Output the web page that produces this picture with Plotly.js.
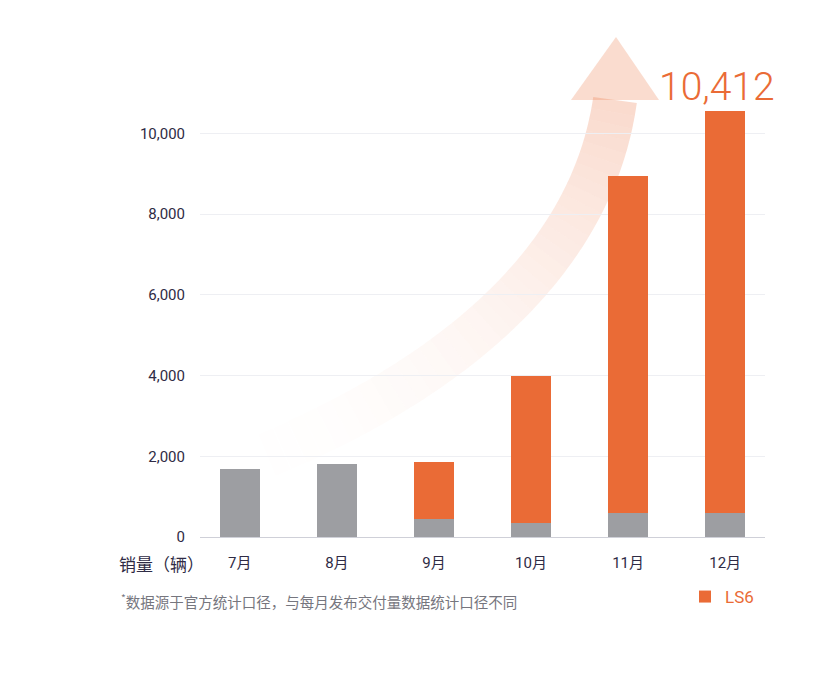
<!DOCTYPE html>
<html>
<head>
<meta charset="utf-8">
<script src="https://cdn.plot.ly/plotly-3.0.1.min.js"></script>
<style>
  body { margin: 0; background: #fff; }
  #myChart { width: 830px; height: 698px; }
</style>
</head>
<body>
<div id="myChart"></div>
<script>
// months on the x axis
var months = ['7月', '8月', '9月', '10月', '11月', '12月'];
// gray part of each bar (other models)
var other_sales = [1690, 1800, 450, 350, 600, 600];
// orange part (LS6)
var ls6_sales = [0, 0, 1420, 3650, 8350, 9950];
var y_ticks = [0, 2000, 4000, 6000, 8000, 10000];
var y_tick_text = ['0', '2,000', '4,000', '6,000', '8,000', '10,000'];

var orange = '#ea6b36';
var gray = '#9d9ea2';
var dark = '#2f2b45';

// plot box in pixels, used to place the decoration in paper units
var L = 200, R = 765, T = 101, B = 537;
function px(x) { return (x - L) / (R - L); }
function py(y) { return (B - y) / (B - T); }

// curved arrow behind the bars, drawn as fading pieces
function bez(p0, p1, p2, p3, t) {
    var u = 1 - t;
    return [u*u*u*p0[0] + 3*u*u*t*p1[0] + 3*u*t*t*p2[0] + t*t*t*p3[0],
            u*u*u*p0[1] + 3*u*u*t*p1[1] + 3*u*t*t*p2[1] + t*t*t*p3[1]];
}
function arrow_shapes() {
    var p0 = [235, 468], p1 = [450, 385], p2 = [592, 262], p3 = [615, 100];
    var steps = 120;
    var left = [], right = [];
    for (var i = 0; i <= steps; i++) {
        var t = i / steps;
        var a = bez(p0, p1, p2, p3, Math.max(0, t - 0.001));
        var b = bez(p0, p1, p2, p3, Math.min(1, t + 0.001));
        var c = bez(p0, p1, p2, p3, t);
        var dx = b[0] - a[0], dy = b[1] - a[1];
        var len = Math.sqrt(dx*dx + dy*dy);
        var nx = -dy / len, ny = dx / len;
        var hw = 23 - 1 * t;
        left.push([c[0] + nx*hw, c[1] + ny*hw]);
        right.push([c[0] - nx*hw, c[1] - ny*hw]);
    }
    var shapes = [];
    var seg = 40, per = steps / seg;
    for (var s = 0; s < seg; s++) {
        var pts = [];
        for (var k = s*per; k <= (s+1)*per; k++) pts.push(left[k]);
        for (var k = (s+1)*per; k >= s*per; k--) pts.push(right[k]);
        var path = 'M' + pts.map(function(p){ return px(p[0]).toFixed(4) + ',' + py(p[1]).toFixed(4); }).join(' L') + ' Z';
        var tm = (s + 0.5) / seg;
        var op = 0.25 * Math.pow(tm, 1.7);
        shapes.push({type: 'path', xref: 'paper', yref: 'paper', path: path,
                     fillcolor: orange, opacity: op, line: {width: 0}, layer: 'between'});
    }
    var head = 'M' + px(571) + ',' + py(100) + ' L' + px(659) + ',' + py(100) +
               ' L' + px(616) + ',' + py(37) + ' Z';
    shapes.push({type: 'path', xref: 'paper', yref: 'paper', path: head,
                 fillcolor: orange, opacity: 0.24, line: {width: 0}, layer: 'between'});
    return shapes;
}

var Other = {
    x: months,
    y: other_sales,
    name: '其他',
    type: 'bar',
    width: 0.41,
    marker: {color: gray},
    showlegend: false,
    hoverinfo: 'x+y'
};

var LS6 = {
    x: months,
    y: ls6_sales,
    name: 'LS6',
    type: 'bar',
    width: 0.41,
    marker: {color: orange}
};

var data = [Other, LS6];

var layout = {
    width: 830,
    height: 698,
    margin: {l: L, r: 830 - R, t: T, b: 698 - B},
    paper_bgcolor: '#ffffff',
    plot_bgcolor: '#ffffff',
    barmode: 'stack',
    font: {family: 'Roboto, "Noto Sans CJK SC", sans-serif', color: dark, size: 15},
    xaxis: {
        type: 'category',
        range: [-0.41, 5.41],
        showgrid: false,
        showline: true,
        linecolor: '#cfd0d8',
        linewidth: 1,
        ticks: '',
        ticklabelstandoff: 12,
        tickfont: {family: 'Roboto, "Noto Sans CJK SC", sans-serif', size: 15, color: dark}
    },
    yaxis: {
        range: [0, 10800],
        tickvals: y_ticks,
        ticktext: y_tick_text,
        showgrid: true,
        gridcolor: '#eeeff3',
        zeroline: false,
        showline: false,
        ticks: '',
        ticklabelstandoff: 14,
        tickfont: {family: 'Roboto, sans-serif', size: 15, color: dark}
    },
    legend: {
        x: px(685),
        y: py(579),
        xanchor: 'left',
        yanchor: 'top',
        bgcolor: 'rgba(0,0,0,0)',
        itemwidth: 30,
        font: {family: 'Roboto, sans-serif', size: 17, color: orange}
    },
    shapes: arrow_shapes(),
    annotations: [
        {
            xref: 'paper', yref: 'paper', x: px(717), y: py(87),
            xanchor: 'center', yanchor: 'middle',
            text: '10,412', showarrow: false,
            font: {family: 'Roboto, sans-serif', size: 39, weight: 300, color: orange}
        },
        {
            xref: 'paper', yref: 'paper', x: px(161), y: py(563),
            xanchor: 'center', yanchor: 'middle',
            text: '销量（辆）', showarrow: false,
            font: {family: '"Noto Sans CJK SC", sans-serif', size: 17, color: dark}
        },
        {
            xref: 'paper', yref: 'paper', x: px(119), y: py(601),
            xanchor: 'left', yanchor: 'middle',
            text: '<sup>*</sup>数据源于官方统计口径，与每月发布交付量数据统计口径不同', showarrow: false,
            font: {family: '"Noto Sans CJK SC", sans-serif', size: 14.5, color: '#76767e'}
        }
    ]
};

Plotly.newPlot('myChart', data, layout, {displayModeBar: false, staticPlot: true});
</script>
</body>
</html>
